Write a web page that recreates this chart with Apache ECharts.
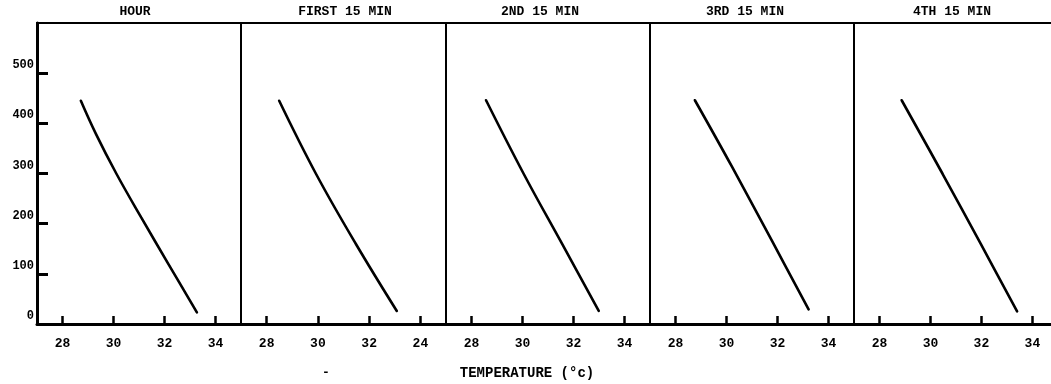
<!DOCTYPE html>
<html>
<head>
    <meta charset="UTF-8">
    <title>Temperature profiles</title>
    <script src="https://cdn.jsdelivr.net/npm/echarts@6/dist/echarts.min.js"></script>
    <style>
        html, body { margin: 0; padding: 0; background: #fff; }
        #chart { width: 1051px; height: 384px; }
    </style>
</head>
<body>
<div id="chart"></div>
<script>
    // panel headings and tick labels as printed
    const panelTitles = ['HOUR', 'FIRST 15 MIN', '2ND 15 MIN', '3RD 15 MIN', '4TH 15 MIN']
    const xTickValues = [28, 30, 32, 34]
    const xTickLabels = [
        ['28', '30', '32', '34'],
        ['28', '30', '32', '24'],
        ['28', '30', '32', '34'],
        ['28', '30', '32', '34'],
        ['28', '30', '32', '34'],
    ]
    const yTickValues = [0, 100, 200, 300, 400, 500]

    // curves (temperature, y value)
    const hourTemp = [28.72, 29.31, 30.12, 31.08, 32.16, 33.27]
    const hourY    = [445, 379, 299, 213, 119, 23]
    const first15Temp = [28.49, 29.93, 31.49, 33.08]
    const first15Y    = [445, 299, 159, 26]
    const second15Temp = [28.57, 30.05, 31.56, 32.99]
    const second15Y    = [446, 299, 159, 26]
    const third15Temp = [28.76, 30.22, 31.78, 33.22]
    const third15Y    = [446, 313, 166, 29]
    const fourth15Temp = [28.87, 30.48, 31.98, 33.40]
    const fourth15Y    = [446, 299, 159, 25]

    const curves = [
        [hourTemp, hourY],
        [first15Temp, first15Y],
        [second15Temp, second15Y],
        [third15Temp, third15Y],
        [fourth15Temp, fourth15Y],
    ]

    const gridLefts = [37, 241, 446, 650, 854]
    const gridWidths = [204, 205, 204, 204, 197]
    const xMax = [35, 35, 35, 35, 34.73]   // last panel is cut by the page edge
    const titleCenters = [135, 345, 540, 745, 952]
    const FONT = 'Liberation Mono'

    let chart = echarts.init(document.getElementById('chart'), null, {renderer: 'canvas'})

    let grids = gridLefts.map((left, i) => ({
        left: left, top: 23, width: gridWidths[i], height: 301,
        show: i < 4, borderColor: '#000', borderWidth: 2,
    }))

    let xAxes = gridLefts.map((_, i) => ({
        type: 'value', gridIndex: i, min: 27, max: xMax[i],
        splitLine: {show: false},
        axisLine: {show: true, lineStyle: {color: '#000', width: 3}},
        axisTick: {
            show: true, inside: true, length: 8,
            customValues: xTickValues,
            lineStyle: {color: '#000', width: 2.5},
        },
        axisLabel: {
            show: true, margin: 13,
            customValues: xTickValues,
            color: '#000', fontFamily: FONT, fontWeight: 'bold', fontSize: 13,
            formatter: v => xTickLabels[i][xTickValues.indexOf(v)],
        },
    }))
    // top frame line for the cut-off last panel
    xAxes.push({
        type: 'value', gridIndex: 4, position: 'top', min: 27, max: xMax[4],
        splitLine: {show: false}, axisTick: {show: false}, axisLabel: {show: false},
        axisLine: {show: true, lineStyle: {color: '#000', width: 2}},
    })

    let yAxes = gridLefts.map((_, i) => ({
        type: 'value', gridIndex: i, min: 0, max: 600,
        splitLine: {show: false},
        axisLine: {show: true, lineStyle: {color: '#000', width: i == 0 ? 3 : 2}},
        axisTick: {
            show: i == 0, inside: true, length: 11,
            customValues: [100, 200, 300, 400, 500],
            lineStyle: {color: '#000', width: 3},
        },
        axisLabel: {
            show: i == 0, margin: 3,
            customValues: yTickValues,
            verticalAlign: 'bottom', padding: [0, 0, 2, 0],
            color: '#000', fontFamily: FONT, fontWeight: 'bold', fontSize: 12,
        },
    }))

    let series = curves.map((c, i) => ({
        type: 'line', xAxisIndex: i, yAxisIndex: i,
        data: c[0].map((t, k) => [t, c[1][k]]),
        smooth: 0.4, showSymbol: false, silent: true,
        lineStyle: {color: '#000', width: 2.6, cap: 'round'},
    }))

    let titles = panelTitles.map((t, i) => ({
        text: t, left: titleCenters[i], top: 5, textAlign: 'center', padding: 0,
        textStyle: {color: '#000', fontFamily: FONT, fontWeight: 'bold', fontSize: 13},
    }))
    titles.push({
        text: 'TEMPERATURE (°c)', left: 527, top: 366, textAlign: 'center', padding: 0,
        textStyle: {color: '#000', fontFamily: FONT, fontWeight: 'bold', fontSize: 14},
    })
    titles.push({
        text: '-', left: 326, top: 366, textAlign: 'center', padding: 0,
        textStyle: {color: '#000', fontFamily: FONT, fontWeight: 'bold', fontSize: 13},
    })

    chart.setOption({
        backgroundColor: '#fff',
        animation: false,
        title: titles,
        grid: grids,
        xAxis: xAxes,
        yAxis: yAxes,
        series: series,
    })
</script>
</body>
</html>
